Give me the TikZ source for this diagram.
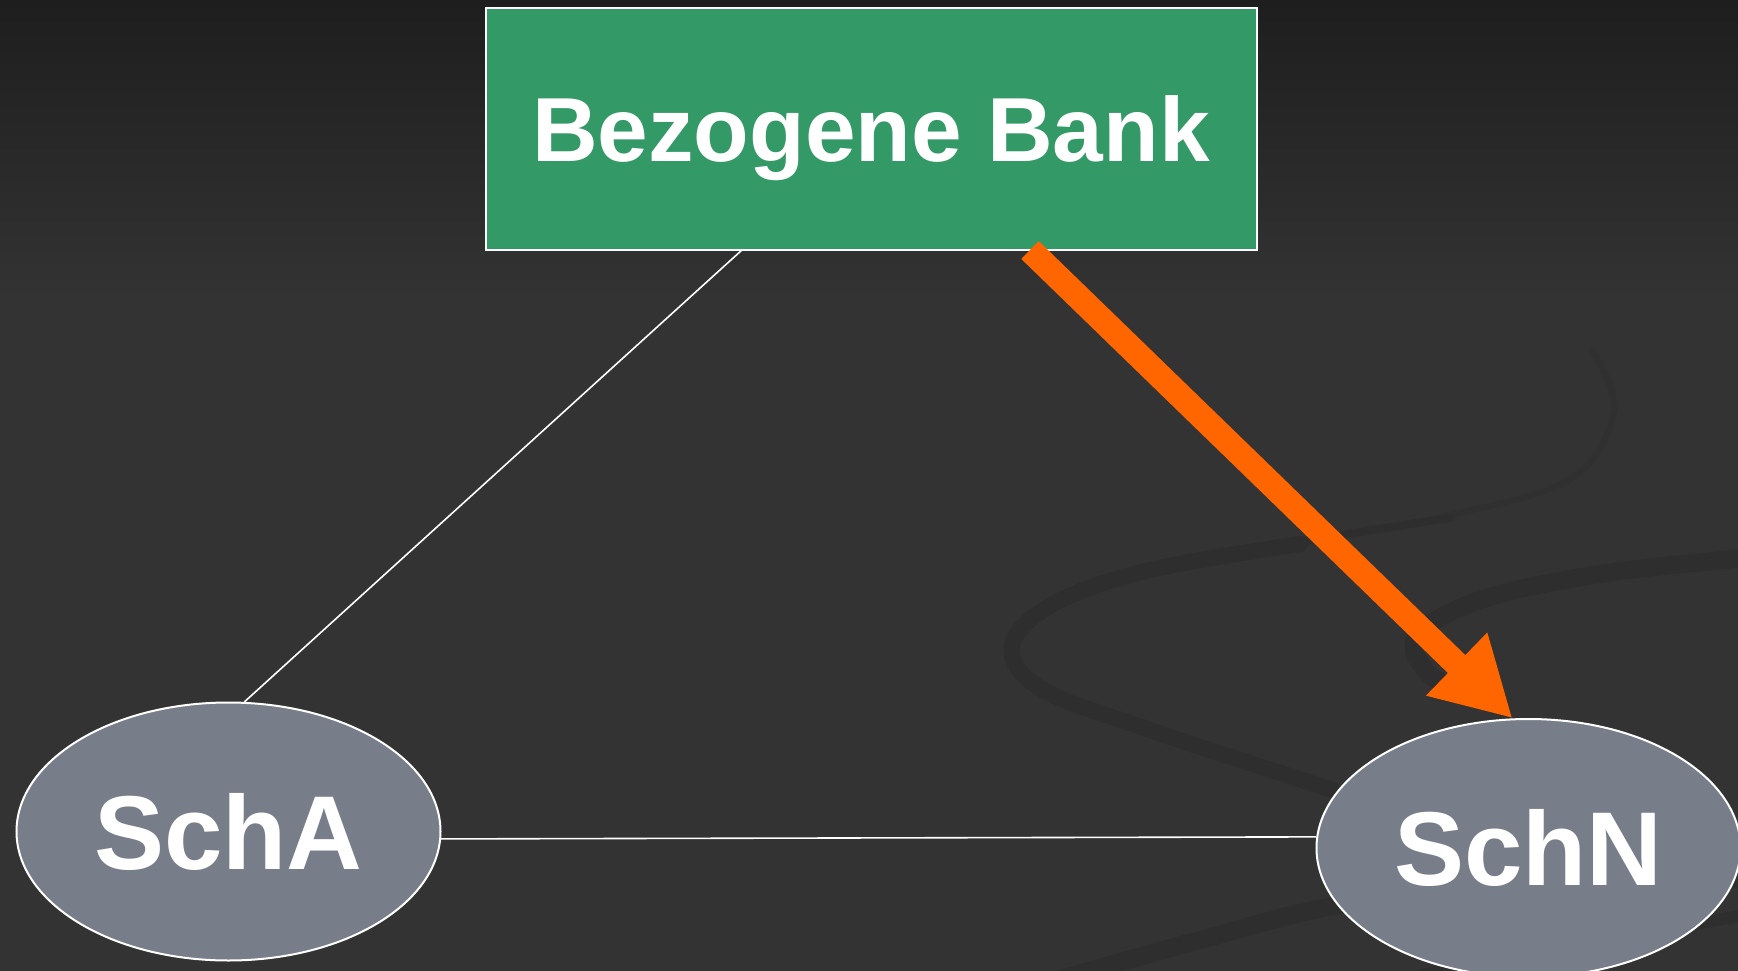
\documentclass[tikz,border=0pt]{standalone}
\usepackage{fontspec}
\setmainfont{Liberation Sans}
\usetikzlibrary{shapes.geometric,arrows.meta}
\definecolor{bgmain}{HTML}{333333}
\definecolor{bgtop}{HTML}{1E1E1E}
\definecolor{swirl}{HTML}{2E2E2E}
\definecolor{swirlfaint}{HTML}{303030}
\definecolor{bankgreen}{HTML}{339966}
\definecolor{partygray}{HTML}{787D8A}
\definecolor{arroworange}{HTML}{FF6600}
\tikzset{
  bankbox/.style={draw=white, line width=2pt, fill=bankgreen, text=white,
    font=\fontsize{91}{91}\selectfont\bfseries, minimum width=771pt, minimum height=242pt,
    inner sep=0pt, text height=65pt, text depth=0pt},
  party/.style={ellipse, draw=white, line width=2pt, fill=partygray, text=white,
    font=\fontsize{105}{105}\selectfont\bfseries, minimum width=424pt, minimum height=258pt,
    inner sep=0pt, text height=75pt, text depth=0pt},
  thinlink/.style={draw=white, line width=1.6pt},
  bigarrow/.style={draw=arroworange, line width=25pt, line cap=butt,
    -{Triangle[length=78pt,width=82pt]}},
  swirlband/.style={draw=swirl, line cap=round, line join=round}
}
\begin{document}
\begin{tikzpicture}[x=1pt,y=-1pt]
  % background
  \fill[bgmain] (0,0) rectangle (1738,971);
  \shade[top color=bgtop, bottom color=bgmain, draw=none] (0,0) rectangle (1738,300);
  \useasboundingbox (0,0) rectangle (1738,971);
  % faint background swirls
  \draw[swirlband, draw=swirlfaint, line width=6pt] plot[smooth, tension=0.6] coordinates
    {(1592,350) (1614,410) (1572,478) (1450,515) (1300,542) (1150,570)};
  \draw[swirlband, line width=8pt] plot[smooth, tension=0.6] coordinates
    {(1450,518) (1300,542) (1150,570)};
  \draw[swirlband, line width=16pt] plot[smooth, tension=0.6] coordinates
    {(1300,544) (1150,570) (1055,603) (1012,645) (1040,688) (1150,730) (1333,790)};
  \draw[swirlband, line width=18pt] plot[smooth, tension=0.6] coordinates
    {(1745,558) (1600,574) (1480,600) (1417,636) (1425,670) (1455,690)};
  \draw[swirlband, line width=18pt] plot[smooth, tension=0.6] coordinates
    {(1040,985) (1200,940) (1340,905) (1500,890) (1745,878)};
  \draw[swirlband, line width=12pt] plot[smooth, tension=0.6] coordinates
    {(1350,990) (1550,950) (1745,915)};
  % nodes
  \node[bankbox] (Bank) at (871,128.6) {Bezogene Bank};
  \node[party] (SchA) at (228.5,831.5) {SchA};
  \node[party] (SchN) at (1528.5,848) {SchN};
  % connectors
  \coordinate (bankLeftFoot) at (742.6,249.4);
  \coordinate (bankArrowStart) at (1030,250);
  \draw[thinlink] (bankLeftFoot) -- (SchA.83.6);
  \draw[thinlink] (SchA.-2) -- (SchN.177.5);
  \draw[bigarrow] (bankArrowStart) -- (SchN.97);
\end{tikzpicture}
\end{document}
